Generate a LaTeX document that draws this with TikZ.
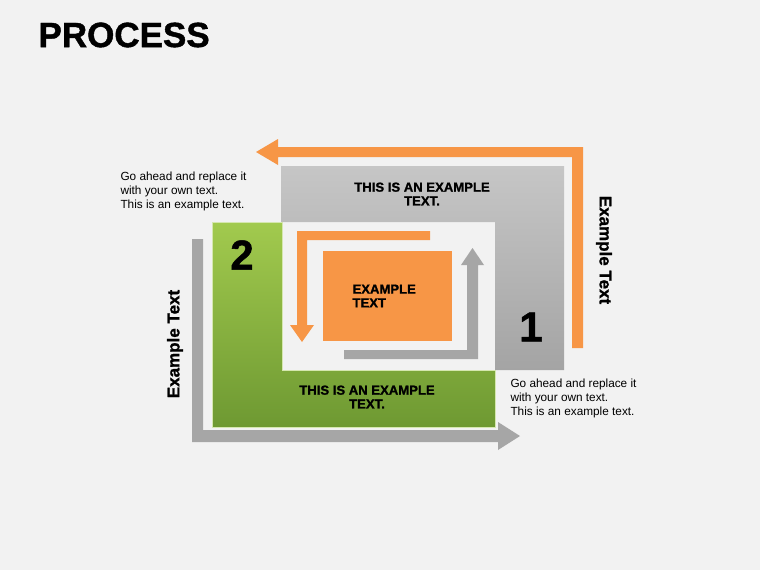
\documentclass[tikz,border=0pt]{standalone}
\usepackage{fontspec}
\setmainfont{Liberation Sans}
\newfontfamily\heavyfont[FakeBold=1.2]{Liberation Sans Bold}
\definecolor{bgray}{HTML}{F2F2F2}
\definecolor{porange}{HTML}{F79646}
\definecolor{pgray}{HTML}{A6A6A6}
\definecolor{gtop}{HTML}{C6C6C6}
\definecolor{gbot}{HTML}{A4A4A4}
\definecolor{ntop}{HTML}{A2CA4E}
\definecolor{nbot}{HTML}{6E9932}
\begin{document}
\begin{tikzpicture}[x=1pt, y=-1pt,
    heavy/.style={font=\heavyfont\fontsize{13.1}{13.8}\selectfont, align=center},
    body/.style={font=\fontsize{11.8}{14}\selectfont, align=left, anchor=north west},
    side/.style={font=\heavyfont\fontsize{17}{18}\selectfont},
    digit/.style={font=\heavyfont\fontsize{42}{42}\selectfont}]
    \fill[bgray] (0,0) rectangle (760,570);
    \useasboundingbox (0,0) rectangle (760,570);
    % title
    \node[anchor=west, font=\heavyfont\fontsize{35}{35}\selectfont] (title) at (35,35) {PROCESS};
    % big L shapes
    \shade[top color=gtop, bottom color=gbot] (281,166) -- (564,166) -- (564,370) -- (495,370) -- (495,222) -- (281,222) -- cycle;
    \shade[top color=ntop, bottom color=nbot, draw=ntop!45!white, line width=1] (212,222) -- (282,222) -- (282,370) -- (495,370) -- (495,427) -- (212,427) -- cycle;
    % outer arrows
    \fill[porange] (583,348) -- (583,147) -- (278,147) -- (278,139) -- (256,152) -- (278,165) -- (278,157) -- (572,157) -- (572,348) -- cycle;
    \fill[pgray] (192,239) -- (192,442) -- (498,442) -- (498,450) -- (520,436) -- (498,422) -- (498,430) -- (203,430) -- (203,239) -- cycle;
    % inner arrows
    \fill[porange] (430,231) -- (297,231) -- (297,325) -- (290,325) -- (302,342) -- (314,325) -- (307,325) -- (307,240) -- (430,240) -- cycle;
    \fill[pgray] (344,359) -- (478,359) -- (478,265) -- (484,265) -- (472.5,248) -- (461,265) -- (467,265) -- (467,350) -- (344,350) -- cycle;
    % centre box
    \fill[porange] (323,251) rectangle (452,341);
    \node[heavy, align=left, anchor=west] (core) at (349,296) {EXAMPLE\\TEXT};
    % labels
    \node[heavy] (toptext) at (422,194) {THIS IS AN EXAMPLE\\TEXT.};
    \node[heavy] (bottext) at (367,397) {THIS IS AN EXAMPLE\\TEXT.};
    \node[digit] (two) at (242,255) {2};
    \node[digit] (one) at (531,327) {1};
    \node[side, rotate=90] (lside) at (175,344) {Example Text};
    \node[side, rotate=-90] (rside) at (604,250) {Example Text};
    \node[body] (lnote) at (117,168) {Go ahead and replace it\\with your own text.\\This is an example text.};
    \node[body] (rnote) at (507,375) {Go ahead and replace it\\with your own text.\\This is an example text.};
\end{tikzpicture}
\end{document}
